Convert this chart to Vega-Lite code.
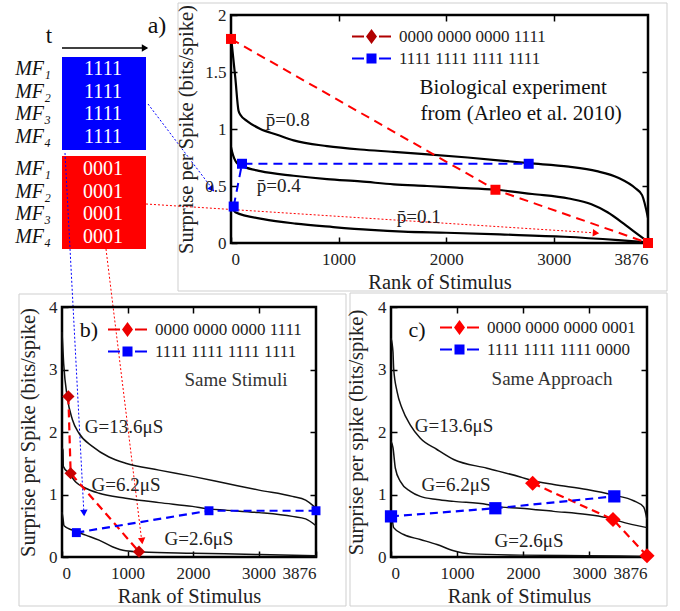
{
  "$schema": "https://vega.github.io/schema/vega-lite/v6.json",
  "padding": {"left": 15, "top": 2, "right": 0, "bottom": 0},
  "bounds": "flush",
  "spacing": 292,
  "resolve": {"scale": {"color": "independent", "shape": "independent"}, "legend": {"color": "independent", "shape": "independent"}},
  "datasets": {
    "curves": [
      {"panel":"a","curve":"p08","rank":0,"value":1.80},{"panel":"a","curve":"p08","rank":10,"value":1.72},{"panel":"a","curve":"p08","rank":40,"value":1.45},{"panel":"a","curve":"p08","rank":70,"value":1.16},{"panel":"a","curve":"p08","rank":90,"value":1.12},{"panel":"a","curve":"p08","rank":150,"value":1.07},{"panel":"a","curve":"p08","rank":273,"value":1.0},{"panel":"a","curve":"p08","rank":428,"value":0.95},{"panel":"a","curve":"p08","rank":582,"value":0.90},{"panel":"a","curve":"p08","rank":892,"value":0.85},{"panel":"a","curve":"p08","rank":1202,"value":0.82},{"panel":"a","curve":"p08","rank":1512,"value":0.80},{"panel":"a","curve":"p08","rank":1800,"value":0.78},{"panel":"a","curve":"p08","rank":2200,"value":0.75},{"panel":"a","curve":"p08","rank":2767,"value":0.70},{"panel":"a","curve":"p08","rank":3139,"value":0.67},{"panel":"a","curve":"p08","rank":3400,"value":0.63},{"panel":"a","curve":"p08","rank":3604,"value":0.57},{"panel":"a","curve":"p08","rank":3759,"value":0.48},{"panel":"a","curve":"p08","rank":3821,"value":0.42},{"panel":"a","curve":"p08","rank":3876,"value":0.22},
      {"panel":"a","curve":"p04","rank":0,"value":0.84},{"panel":"a","curve":"p04","rank":10,"value":0.80},{"panel":"a","curve":"p04","rank":56,"value":0.70},{"panel":"a","curve":"p04","rank":118,"value":0.67},{"panel":"a","curve":"p04","rank":273,"value":0.63},{"panel":"a","curve":"p04","rank":582,"value":0.59},{"panel":"a","curve":"p04","rank":892,"value":0.56},{"panel":"a","curve":"p04","rank":1202,"value":0.54},{"panel":"a","curve":"p04","rank":1512,"value":0.515},{"panel":"a","curve":"p04","rank":1822,"value":0.50},{"panel":"a","curve":"p04","rank":2100,"value":0.485},{"panel":"a","curve":"p04","rank":2458,"value":0.467},{"panel":"a","curve":"p04","rank":2800,"value":0.43},{"panel":"a","curve":"p04","rank":3139,"value":0.39},{"panel":"a","curve":"p04","rank":3350,"value":0.34},{"panel":"a","curve":"p04","rank":3500,"value":0.27},{"panel":"a","curve":"p04","rank":3650,"value":0.17},{"panel":"a","curve":"p04","rank":3760,"value":0.09},{"panel":"a","curve":"p04","rank":3876,"value":0.01},
      {"panel":"a","curve":"p01","rank":0,"value":0.33},{"panel":"a","curve":"p01","rank":40,"value":0.27},{"panel":"a","curve":"p01","rank":300,"value":0.21},{"panel":"a","curve":"p01","rank":600,"value":0.17},{"panel":"a","curve":"p01","rank":950,"value":0.14},{"panel":"a","curve":"p01","rank":1300,"value":0.115},{"panel":"a","curve":"p01","rank":1600,"value":0.10},{"panel":"a","curve":"p01","rank":2000,"value":0.09},{"panel":"a","curve":"p01","rank":2500,"value":0.075},{"panel":"a","curve":"p01","rank":3100,"value":0.055},{"panel":"a","curve":"p01","rank":3600,"value":0.025},{"panel":"a","curve":"p01","rank":3876,"value":0.005},
      {"panel":"b","curve":"g136","rank":0,"value":3.6},{"panel":"b","curve":"g136","rank":25,"value":3.1},{"panel":"b","curve":"g136","rank":81,"value":2.55},{"panel":"b","curve":"g136","rank":158,"value":2.2},{"panel":"b","curve":"g136","rank":259,"value":1.98},{"panel":"b","curve":"g136","rank":463,"value":1.77},{"panel":"b","curve":"g136","rank":717,"value":1.6},{"panel":"b","curve":"g136","rank":971,"value":1.5},{"panel":"b","curve":"g136","rank":1480,"value":1.39},{"panel":"b","curve":"g136","rank":1989,"value":1.29},{"panel":"b","curve":"g136","rank":2498,"value":1.18},{"panel":"b","curve":"g136","rank":3006,"value":1.07},{"panel":"b","curve":"g136","rank":3515,"value":0.97},{"panel":"b","curve":"g136","rank":3718,"value":0.91},{"panel":"b","curve":"g136","rank":3845,"value":0.81},{"panel":"b","curve":"g136","rank":3876,"value":0.78},
      {"panel":"b","curve":"g62","rank":0,"value":1.75},{"panel":"b","curve":"g62","rank":15,"value":1.71},{"panel":"b","curve":"g62","rank":20,"value":1.45},{"panel":"b","curve":"g62","rank":107,"value":1.34},{"panel":"b","curve":"g62","rank":209,"value":1.2},{"panel":"b","curve":"g62","rank":361,"value":1.1},{"panel":"b","curve":"g62","rank":565,"value":1.02},{"panel":"b","curve":"g62","rank":971,"value":0.94},{"panel":"b","curve":"g62","rank":1480,"value":0.87},{"panel":"b","curve":"g62","rank":1989,"value":0.81},{"panel":"b","curve":"g62","rank":2243,"value":0.77},{"panel":"b","curve":"g62","rank":2498,"value":0.75},{"panel":"b","curve":"g62","rank":3006,"value":0.71},{"panel":"b","curve":"g62","rank":3515,"value":0.65},{"panel":"b","curve":"g62","rank":3718,"value":0.61},{"panel":"b","curve":"g62","rank":3876,"value":0.5},
      {"panel":"b","curve":"g26","rank":0,"value":0.72},{"panel":"b","curve":"g26","rank":15,"value":0.62},{"panel":"b","curve":"g26","rank":31,"value":0.50},{"panel":"b","curve":"g26","rank":158,"value":0.43},{"panel":"b","curve":"g26","rank":361,"value":0.35},{"panel":"b","curve":"g26","rank":565,"value":0.27},{"panel":"b","curve":"g26","rank":768,"value":0.165},{"panel":"b","curve":"g26","rank":971,"value":0.10},{"panel":"b","curve":"g26","rank":1226,"value":0.08},{"panel":"b","curve":"g26","rank":1989,"value":0.06},{"panel":"b","curve":"g26","rank":3006,"value":0.04},{"panel":"b","curve":"g26","rank":3876,"value":0.02},
      {"panel":"c","curve":"g136","rank":0,"value":3.5},{"panel":"c","curve":"g136","rank":30,"value":3.28},{"panel":"c","curve":"g136","rank":40,"value":3.02},{"panel":"c","curve":"g136","rank":91,"value":2.65},{"panel":"c","curve":"g136","rank":167,"value":2.38},{"panel":"c","curve":"g136","rank":293,"value":2.11},{"panel":"c","curve":"g136","rank":444,"value":1.9},{"panel":"c","curve":"g136","rank":696,"value":1.72},{"panel":"c","curve":"g136","rank":949,"value":1.56},{"panel":"c","curve":"g136","rank":1453,"value":1.42},{"panel":"c","curve":"g136","rank":1958,"value":1.28},{"panel":"c","curve":"g136","rank":2145,"value":1.22},{"panel":"c","curve":"g136","rank":2463,"value":1.16},{"panel":"c","curve":"g136","rank":2967,"value":1.08},{"panel":"c","curve":"g136","rank":3370,"value":0.99},{"panel":"c","curve":"g136","rank":3674,"value":0.9},{"panel":"c","curve":"g136","rank":3825,"value":0.8},{"panel":"c","curve":"g136","rank":3876,"value":0.6},
      {"panel":"c","curve":"g62","rank":0,"value":1.85},{"panel":"c","curve":"g62","rank":30,"value":1.75},{"panel":"c","curve":"g62","rank":66,"value":1.42},{"panel":"c","curve":"g62","rank":141,"value":1.21},{"panel":"c","curve":"g62","rank":293,"value":1.05},{"panel":"c","curve":"g62","rank":444,"value":0.97},{"panel":"c","curve":"g62","rank":696,"value":0.92},{"panel":"c","curve":"g62","rank":949,"value":0.89},{"panel":"c","curve":"g62","rank":1453,"value":0.84},{"panel":"c","curve":"g62","rank":1580,"value":0.81},{"panel":"c","curve":"g62","rank":1958,"value":0.78},{"panel":"c","curve":"g62","rank":2463,"value":0.73},{"panel":"c","curve":"g62","rank":2967,"value":0.68},{"panel":"c","curve":"g62","rank":3270,"value":0.63},{"panel":"c","curve":"g62","rank":3361,"value":0.61},{"panel":"c","curve":"g62","rank":3472,"value":0.57},{"panel":"c","curve":"g62","rank":3876,"value":0.47},
      {"panel":"c","curve":"g26","rank":0,"value":0.65},{"panel":"c","curve":"g26","rank":15,"value":0.62},{"panel":"c","curve":"g26","rank":40,"value":0.47},{"panel":"c","curve":"g26","rank":192,"value":0.36},{"panel":"c","curve":"g26","rank":444,"value":0.28},{"panel":"c","curve":"g26","rank":696,"value":0.2},{"panel":"c","curve":"g26","rank":949,"value":0.1},{"panel":"c","curve":"g26","rank":1201,"value":0.05},{"panel":"c","curve":"g26","rank":1958,"value":0.03},{"panel":"c","curve":"g26","rank":2967,"value":0.02},{"panel":"c","curve":"g26","rank":3876,"value":0.01}
    ],
    "markers": [
      {"panel":"a","set":"red","series":"0000 0000 0000 1111","rank":0,"value":1.79},
      {"panel":"a","set":"red","series":"0000 0000 0000 1111","rank":2458,"value":0.467},
      {"panel":"a","set":"red","series":"0000 0000 0000 1111","rank":3876,"value":0.0},
      {"panel":"a","set":"blue","series":"1111 1111 1111 1111","rank":25,"value":0.32},
      {"panel":"a","set":"blue","series":"1111 1111 1111 1111","rank":102,"value":0.695},
      {"panel":"a","set":"blue","series":"1111 1111 1111 1111","rank":2767,"value":0.695},
      {"panel":"b","set":"red","series":"0000 0000 0000 1111","rank":97,"value":2.57},
      {"panel":"b","set":"red","series":"0000 0000 0000 1111","rank":132,"value":1.34},
      {"panel":"b","set":"red","series":"0000 0000 0000 1111","rank":1175,"value":0.085},
      {"panel":"b","set":"blue","series":"1111 1111 1111 1111","rank":219,"value":0.39},
      {"panel":"b","set":"blue","series":"1111 1111 1111 1111","rank":2243,"value":0.74},
      {"panel":"b","set":"blue","series":"1111 1111 1111 1111","rank":3876,"value":0.74},
      {"panel":"c","set":"red","series":"0000 0000 0000 0001","rank":2145,"value":1.18},
      {"panel":"c","set":"red","series":"0000 0000 0000 0001","rank":3361,"value":0.60},
      {"panel":"c","set":"red","series":"0000 0000 0000 0001","rank":3876,"value":0.02},
      {"panel":"c","set":"blue","series":"1111 1111 1111 0000","rank":0,"value":0.65},
      {"panel":"c","set":"blue","series":"1111 1111 1111 0000","rank":1580,"value":0.78},
      {"panel":"c","set":"blue","series":"1111 1111 1111 0000","rank":3381,"value":0.97}
    ],
    "labels": [
      {"panel":"a","kind":"curve","text":"p̄=0.8","rank":527,"value":1.08},
      {"panel":"a","kind":"curve","text":"p̄=0.4","rank":443,"value":0.496},
      {"panel":"a","kind":"curve","text":"p̄=0.1","rank":1745,"value":0.225},
      {"panel":"a","kind":"note","text":"Biological  experiment","rank":2623,"value":1.363},
      {"panel":"a","kind":"note","text":"from (Arleo et al. 2010)","rank":2697,"value":1.135},
      {"panel":"b","kind":"tag","text":"b)","rank":412,"value":3.63},
      {"panel":"b","kind":"note","text":"Same Stimuli","rank":2655,"value":2.83},
      {"panel":"b","kind":"curve","text":"G=13.6μS","rank":946,"value":2.08},
      {"panel":"b","kind":"curve","text":"G=6.2μS","rank":977,"value":1.15},
      {"panel":"b","kind":"curve","text":"G=2.6μS","rank":2090,"value":0.29},
      {"panel":"c","kind":"tag","text":"c)","rank":394,"value":3.63},
      {"panel":"c","kind":"note","text":"Same Approach","rank":2438,"value":2.85},
      {"panel":"c","kind":"curve","text":"G=13.6μS","rank":954,"value":2.09},
      {"panel":"c","kind":"curve","text":"G=6.2μS","rank":984,"value":1.15},
      {"panel":"c","kind":"curve","text":"G=2.6μS","rank":2089,"value":0.255}
    ],
    "boxes": [
      {"box":"blue","x":0,"x2":84,"y":42,"y2":135},
      {"box":"red","x":0,"x2":84,"y":141,"y2":234}
    ],
    "diagram_text": [
      {"kind":"bits","text":"1111","x":41,"y":54},{"kind":"bits","text":"1111","x":41,"y":77},{"kind":"bits","text":"1111","x":41,"y":99},{"kind":"bits","text":"1111","x":41,"y":122},
      {"kind":"bits","text":"0001","x":41,"y":154},{"kind":"bits","text":"0001","x":41,"y":177},{"kind":"bits","text":"0001","x":41,"y":199},{"kind":"bits","text":"0001","x":41,"y":222},
      {"kind":"mf","text":"MF₁","x":-11,"y":54},{"kind":"mf","text":"MF₂","x":-11,"y":77},{"kind":"mf","text":"MF₃","x":-11,"y":99},{"kind":"mf","text":"MF₄","x":-11,"y":122},
      {"kind":"mf","text":"MF₁","x":-11,"y":154},{"kind":"mf","text":"MF₂","x":-11,"y":177},{"kind":"mf","text":"MF₃","x":-11,"y":199},{"kind":"mf","text":"MF₄","x":-11,"y":222},
      {"kind":"t","text":"t","x":-13,"y":21},
      {"kind":"tag","text":"a)","x":95,"y":11}
    ],
    "frames": [
      {"x":116,"y":-12,"x2":605,"y2":-12},
      {"x":116,"y":-12,"x2":116,"y2":276},
      {"x":116,"y":276,"x2":605,"y2":276},
      {"x":605,"y":-12,"x2":605,"y2":276},
      {"x":-43,"y":279,"x2":284,"y2":279},
      {"x":-43,"y":279,"x2":-43,"y2":591},
      {"x":-43,"y":591,"x2":284,"y2":591},
      {"x":284,"y":279,"x2":284,"y2":591},
      {"x":288,"y":278,"x2":605,"y2":278},
      {"x":288,"y":278,"x2":288,"y2":591},
      {"x":288,"y":591,"x2":605,"y2":591},
      {"x":605,"y":278,"x2":605,"y2":591}
    ],
    "arrows": [
      {"id":"time","set":"black","x":0,"y":33,"x2":85,"y2":33},
      {"id":"d1","set":"blue","x":86,"y":89,"x2":152,"y2":176},
      {"id":"d2","set":"red","x":84,"y":189,"x2":535,"y2":218},
      {"id":"d3","set":"blue","x":3,"y":138,"x2":22,"y2":500},
      {"id":"d4","set":"red","x":44,"y":234,"x2":80,"y2":528}
    ],
    "heads": [
      {"id":"time","set":"black","x":83,"y":33,"angle":90},
      {"id":"d1","set":"blue","x":150,"y":174,"angle":143},
      {"id":"d2","set":"red","x":534,"y":218,"angle":94},
      {"id":"d3","set":"blue","x":22,"y":498,"angle":177},
      {"id":"d4","set":"red","x":80,"y":526,"angle":173}
    ]
  },
  "vconcat": [
    {
      "hconcat": [
        {
          "width": 94,
          "height": 228,
          "view": {"stroke": null},
          "encoding": {
            "x": {"field": "x", "type": "quantitative", "scale": {"domain": [0, 94], "nice": false, "zero": false}, "axis": null},
            "y": {"field": "y", "type": "quantitative", "scale": {"domain": [0, 228], "nice": false, "zero": false, "reverse": true}, "axis": null}
          },
          "layer": [
            {"data": {"name": "frames"}, "mark": {"type": "rule", "color": "#cfcfcf", "strokeWidth": 1},
             "encoding": {"x2": {"field": "x2"}, "y2": {"field": "y2"}}},
            {"data": {"name": "boxes"}, "mark": {"type": "rect"},
             "encoding": {"x2": {"field": "x2"}, "y2": {"field": "y2"},
               "color": {"field": "box", "type": "nominal", "scale": {"domain": ["blue", "red", "black"], "range": ["#0000ff", "#ff0000", "#000000"]}, "legend": null}}},
            {"data": {"name": "diagram_text"}, "transform": [{"filter": "datum.kind === 'bits'"}],
             "mark": {"type": "text", "color": "white", "fontSize": 20, "align": "center", "baseline": "middle", "font": "Liberation Serif"},
             "encoding": {"text": {"field": "text"}}},
            {"data": {"name": "diagram_text"}, "transform": [{"filter": "datum.kind === 'mf'"}],
             "mark": {"type": "text", "color": "#111", "fontSize": 20, "fontStyle": "italic", "align": "right", "baseline": "middle", "font": "Liberation Serif"},
             "encoding": {"text": {"field": "text"}}},
            {"data": {"name": "diagram_text"}, "transform": [{"filter": "datum.kind === 't'"}],
             "mark": {"type": "text", "color": "#111", "fontSize": 23, "align": "center", "baseline": "middle", "font": "Liberation Serif"},
             "encoding": {"text": {"field": "text"}}},
            {"data": {"name": "diagram_text"}, "transform": [{"filter": "datum.kind === 'tag'"}],
             "mark": {"type": "text", "color": "#111", "fontSize": 24, "align": "center", "baseline": "middle", "font": "Liberation Serif"},
             "encoding": {"text": {"field": "text"}}},
            {"data": {"name": "arrows"}, "transform": [{"filter": "datum.id === 'time'"}],
             "mark": {"type": "rule", "strokeWidth": 1.5},
             "encoding": {"x2": {"field": "x2"}, "y2": {"field": "y2"},
               "color": {"field": "set", "type": "nominal", "scale": {"domain": ["blue", "red", "black"], "range": ["#0000ff", "#ff0000", "#000000"]}, "legend": null}}},
            {"data": {"name": "arrows"}, "transform": [{"filter": "datum.id !== 'time'"}],
             "mark": {"type": "rule", "strokeWidth": 1, "strokeDash": [2, 2]},
             "encoding": {"x2": {"field": "x2"}, "y2": {"field": "y2"},
               "color": {"field": "set", "type": "nominal", "scale": {"domain": ["blue", "red", "black"], "range": ["#0000ff", "#ff0000", "#000000"]}, "legend": null}}},
            {"data": {"name": "heads"},
             "mark": {"type": "point", "shape": "triangle-up", "filled": true, "size": 55, "opacity": 1},
             "encoding": {"angle": {"field": "angle", "type": "quantitative", "scale": null},
               "color": {"field": "set", "type": "nominal", "scale": {"domain": ["blue", "red", "black"], "range": ["#0000ff", "#ff0000", "#000000"]}, "legend": null}}}
          ]
        },
        {
          "width": 417,
          "height": 228,
          "resolve": {"axis": {"x": "independent", "y": "independent"}},
          "encoding": {
            "x": {"field": "rank", "type": "quantitative", "scale": {"domain": [0, 3876], "nice": false, "zero": false}, "axis": null},
            "y": {"field": "value", "type": "quantitative", "scale": {"domain": [0, 2], "nice": false}, "axis": null}
          },
          "layer": [
            {"data": {"name": "curves"}, "transform": [{"filter": "datum.panel === 'a'"}],
             "mark": {"type": "line", "color": "#000", "strokeWidth": 2.2, "interpolate": "monotone"},
             "encoding": {
               "x": {"field": "rank", "type": "quantitative", "scale": {"domain": [0, 3876], "nice": false, "zero": false},
                     "axis": {"values": [0, 1000, 2000, 3000, 3876], "format": "d", "title": "Rank of Stimulus", "titleFont": "Liberation Serif", "labelFont": "Liberation Serif"}},
               "y": {"field": "value", "type": "quantitative", "scale": {"domain": [0, 2], "nice": false},
                     "axis": {"values": [0, 0.5, 1, 1.5, 2], "format": "~g", "title": "Surprise per Spike (bits/spike)", "titlePadding": 8, "titleFont": "Liberation Serif", "labelFont": "Liberation Serif"}},
               "detail": {"field": "curve"}}},
            {"data": {"name": "markers"}, "transform": [{"filter": "datum.panel === 'a' && datum.set === 'red'"}],
             "mark": {"type": "line", "color": "#ff0000", "strokeWidth": 2, "strokeDash": [9, 6]}},
            {"data": {"name": "markers"}, "transform": [{"filter": "datum.panel === 'a' && datum.set === 'blue'"}],
             "mark": {"type": "line", "color": "#0000ff", "strokeWidth": 2, "strokeDash": [9, 6]}},
            {"data": {"name": "markers"}, "transform": [{"filter": "datum.panel === 'a' && datum.set === 'red'"}],
             "mark": {"type": "point", "shape": "square", "filled": true, "size": 100, "color": "#ff0000", "opacity": 1}},
            {"data": {"name": "markers"}, "transform": [{"filter": "datum.panel === 'a' && datum.set === 'blue'"}],
             "mark": {"type": "point", "shape": "square", "filled": true, "size": 100, "color": "#0000ff", "opacity": 1}},
            {"data": {"name": "markers"}, "transform": [{"filter": "datum.panel === 'a'"}],
             "mark": {"type": "point", "filled": true, "size": 100, "opacity": 0},
             "encoding": {
               "color": {"field": "series", "type": "nominal", "scale": {"domain": ["0000 0000 0000 1111", "1111 1111 1111 1111"], "range": ["#b00000", "#0000ff"]},
                 "legend": {"title": null, "orient": "none", "legendX": 112, "legendY": 13, "symbolOpacity": 1}},
               "shape": {"field": "series", "type": "nominal", "scale": {"domain": ["0000 0000 0000 1111", "1111 1111 1111 1111"], "range": ["M-3.9,-0.22L-1.5,-0.22L-1.5,0.22L-3.9,0.22Z M-1.1,0L0,-1.5L1.1,0L0,1.5Z M1.5,-0.22L3.9,-0.22L3.9,0.22L1.5,0.22Z", "M-3.9,-0.22L-1.5,-0.22L-1.5,0.22L-3.9,0.22Z M-1,-1L1,-1L1,1L-1,1Z M1.5,-0.22L3.9,-0.22L3.9,0.22L1.5,0.22Z"]},
                 "legend": {"title": null, "orient": "none", "legendX": 112, "legendY": 13, "symbolOpacity": 1}}
             }},
            {"data": {"name": "labels"}, "transform": [{"filter": "datum.panel === 'a' && datum.kind === 'curve'"}],
             "mark": {"type": "text", "fontSize": 19, "align": "center", "baseline": "middle", "color": "#222", "font": "Liberation Serif"},
             "encoding": {"text": {"field": "text"}}},
            {"data": {"name": "labels"}, "transform": [{"filter": "datum.panel === 'a' && datum.kind === 'note'"}],
             "mark": {"type": "text", "fontSize": 21, "align": "center", "baseline": "middle", "color": "#111", "font": "Liberation Serif"},
             "encoding": {
               "x": {"field": "rank", "type": "quantitative", "scale": {"domain": [0, 3876], "nice": false, "zero": false},
                     "axis": {"orient": "top", "values": [1000, 2000, 3000], "labels": false, "title": null}},
               "y": {"field": "value", "type": "quantitative", "scale": {"domain": [0, 2], "nice": false},
                     "axis": {"orient": "right", "values": [0.5, 1, 1.5], "labels": false, "title": null}},
               "text": {"field": "text"}}}
          ]
        }
      ],
      "spacing": 75,
      "bounds": "flush",
      "resolve": {"scale": {"color": "independent", "shape": "independent"}, "legend": {"color": "independent", "shape": "independent"}}
    },
    {
      "hconcat": [
        {
          "width": 254,
          "height": 250,
          "resolve": {"axis": {"x": "independent", "y": "independent"}},
          "encoding": {
            "x": {"field": "rank", "type": "quantitative", "scale": {"domain": [0, 3876], "nice": false, "zero": false}, "axis": null},
            "y": {"field": "value", "type": "quantitative", "scale": {"domain": [0, 4], "nice": false}, "axis": null}
          },
          "layer": [
            {"data": {"name": "curves"}, "transform": [{"filter": "datum.panel === 'b'"}],
             "mark": {"type": "line", "color": "#111", "strokeWidth": 1.5, "interpolate": "monotone"},
             "encoding": {
               "x": {"field": "rank", "type": "quantitative", "scale": {"domain": [0, 3876], "nice": false, "zero": false},
                     "axis": {"values": [0, 1000, 2000, 3000, 3876], "format": "d", "title": "Rank of Stimulus", "titleFont": "Liberation Serif", "labelFont": "Liberation Serif"}},
               "y": {"field": "value", "type": "quantitative", "scale": {"domain": [0, 4], "nice": false},
                     "axis": {"values": [0, 1, 2, 3, 4], "format": "~g", "title": "Surprise per Spike (bits/spike)", "titleFont": "Liberation Serif", "labelFont": "Liberation Serif"}},
               "detail": {"field": "curve"}}},
            {"data": {"name": "markers"}, "transform": [{"filter": "datum.panel === 'b' && datum.set === 'red'"}],
             "mark": {"type": "line", "color": "#ff0000", "strokeWidth": 2.2, "strokeDash": [8, 5]}},
            {"data": {"name": "markers"}, "transform": [{"filter": "datum.panel === 'b' && datum.set === 'blue'"}],
             "mark": {"type": "line", "color": "#0000ff", "strokeWidth": 2.2, "strokeDash": [8, 5]}},
            {"data": {"name": "markers"}, "transform": [{"filter": "datum.panel === 'b' && datum.set === 'red'"}],
             "mark": {"type": "point", "shape": "diamond", "filled": true, "size": 150, "color": "#c80000", "opacity": 1}},
            {"data": {"name": "markers"}, "transform": [{"filter": "datum.panel === 'b' && datum.set === 'blue'"}],
             "mark": {"type": "point", "shape": "square", "filled": true, "size": 80, "color": "#0000ff", "opacity": 1}},
            {"data": {"name": "markers"}, "transform": [{"filter": "datum.panel === 'b'"}],
             "mark": {"type": "point", "filled": true, "size": 100, "opacity": 0},
             "encoding": {
               "color": {"field": "series", "type": "nominal", "scale": {"domain": ["0000 0000 0000 1111", "1111 1111 1111 1111"], "range": ["#ee0000", "#0000ff"]},
                 "legend": {"title": null, "orient": "none", "legendX": 37, "legendY": 14, "symbolOpacity": 1}},
               "shape": {"field": "series", "type": "nominal", "scale": {"domain": ["0000 0000 0000 1111", "1111 1111 1111 1111"], "range": ["M-3.9,-0.22L-1.5,-0.22L-1.5,0.22L-3.9,0.22Z M-1.1,0L0,-1.5L1.1,0L0,1.5Z M1.5,-0.22L3.9,-0.22L3.9,0.22L1.5,0.22Z", "M-3.9,-0.22L-1.5,-0.22L-1.5,0.22L-3.9,0.22Z M-1,-1L1,-1L1,1L-1,1Z M1.5,-0.22L3.9,-0.22L3.9,0.22L1.5,0.22Z"]},
                 "legend": {"title": null, "orient": "none", "legendX": 37, "legendY": 14, "symbolOpacity": 1}}
             }},
            {"data": {"name": "labels"}, "transform": [{"filter": "datum.panel === 'b' && datum.kind === 'curve'"}],
             "mark": {"type": "text", "fontSize": 19, "align": "center", "baseline": "middle", "color": "#222", "font": "Liberation Serif"},
             "encoding": {"text": {"field": "text"}}},
            {"data": {"name": "labels"}, "transform": [{"filter": "datum.panel === 'b' && datum.kind === 'note'"}],
             "mark": {"type": "text", "fontSize": 19, "align": "center", "baseline": "middle", "color": "#333", "font": "Liberation Serif"},
             "encoding": {
               "x": {"field": "rank", "type": "quantitative", "scale": {"domain": [0, 3876], "nice": false, "zero": false},
                     "axis": {"orient": "top", "values": [1000, 2000, 3000], "labels": false, "title": null}},
               "y": {"field": "value", "type": "quantitative", "scale": {"domain": [0, 4], "nice": false},
                     "axis": {"orient": "right", "values": [1, 2, 3], "labels": false, "title": null}},
               "text": {"field": "text"}}},
            {"data": {"name": "labels"}, "transform": [{"filter": "datum.panel === 'b' && datum.kind === 'tag'"}],
             "mark": {"type": "text", "fontSize": 22, "align": "center", "baseline": "middle", "color": "#111", "font": "Liberation Serif"},
             "encoding": {"text": {"field": "text"}}}
          ]
        },
        {
          "width": 256,
          "height": 250,
          "resolve": {"axis": {"x": "independent", "y": "independent"}},
          "encoding": {
            "x": {"field": "rank", "type": "quantitative", "scale": {"domain": [0, 3876], "nice": false, "zero": false}, "axis": null},
            "y": {"field": "value", "type": "quantitative", "scale": {"domain": [0, 4], "nice": false}, "axis": null}
          },
          "layer": [
            {"data": {"name": "curves"}, "transform": [{"filter": "datum.panel === 'c'"}],
             "mark": {"type": "line", "color": "#111", "strokeWidth": 1.5, "interpolate": "monotone"},
             "encoding": {
               "x": {"field": "rank", "type": "quantitative", "scale": {"domain": [0, 3876], "nice": false, "zero": false},
                     "axis": {"values": [0, 1000, 2000, 3000, 3876], "format": "d", "title": "Rank of Stimulus", "titleFont": "Liberation Serif", "labelFont": "Liberation Serif"}},
               "y": {"field": "value", "type": "quantitative", "scale": {"domain": [0, 4], "nice": false},
                     "axis": {"values": [0, 1, 2, 3, 4], "format": "~g", "title": "Surprise per spike (bits/spike)", "titlePadding": 11, "titleFont": "Liberation Serif", "labelFont": "Liberation Serif"}},
               "detail": {"field": "curve"}}},
            {"data": {"name": "markers"}, "transform": [{"filter": "datum.panel === 'c' && datum.set === 'red'"}],
             "mark": {"type": "line", "color": "#ff0000", "strokeWidth": 2.2, "strokeDash": [8, 5]}},
            {"data": {"name": "markers"}, "transform": [{"filter": "datum.panel === 'c' && datum.set === 'blue'"}],
             "mark": {"type": "line", "color": "#0000ff", "strokeWidth": 2.2, "strokeDash": [8, 5]}},
            {"data": {"name": "markers"}, "transform": [{"filter": "datum.panel === 'c' && datum.set === 'red'"}],
             "mark": {"type": "point", "shape": "diamond", "filled": true, "size": 230, "color": "#ff0000", "opacity": 1}},
            {"data": {"name": "markers"}, "transform": [{"filter": "datum.panel === 'c' && datum.set === 'blue'"}],
             "mark": {"type": "point", "shape": "square", "filled": true, "size": 150, "color": "#0000ff", "opacity": 1}},
            {"data": {"name": "markers"}, "transform": [{"filter": "datum.panel === 'c'"}],
             "mark": {"type": "point", "filled": true, "size": 100, "opacity": 0},
             "encoding": {
               "color": {"field": "series", "type": "nominal", "scale": {"domain": ["0000 0000 0000 0001", "1111 1111 1111 0000"], "range": ["#ff0000", "#0000ff"]},
                 "legend": {"title": null, "orient": "none", "legendX": 40, "legendY": 12, "symbolOpacity": 1}},
               "shape": {"field": "series", "type": "nominal", "scale": {"domain": ["0000 0000 0000 0001", "1111 1111 1111 0000"], "range": ["M-3.9,-0.22L-1.5,-0.22L-1.5,0.22L-3.9,0.22Z M-1.1,0L0,-1.5L1.1,0L0,1.5Z M1.5,-0.22L3.9,-0.22L3.9,0.22L1.5,0.22Z", "M-3.9,-0.22L-1.5,-0.22L-1.5,0.22L-3.9,0.22Z M-1,-1L1,-1L1,1L-1,1Z M1.5,-0.22L3.9,-0.22L3.9,0.22L1.5,0.22Z"]},
                 "legend": {"title": null, "orient": "none", "legendX": 40, "legendY": 12, "symbolOpacity": 1}}
             }},
            {"data": {"name": "labels"}, "transform": [{"filter": "datum.panel === 'c' && datum.kind === 'curve'"}],
             "mark": {"type": "text", "fontSize": 19, "align": "center", "baseline": "middle", "color": "#222", "font": "Liberation Serif"},
             "encoding": {"text": {"field": "text"}}},
            {"data": {"name": "labels"}, "transform": [{"filter": "datum.panel === 'c' && datum.kind === 'note'"}],
             "mark": {"type": "text", "fontSize": 19, "align": "center", "baseline": "middle", "color": "#333", "font": "Liberation Serif"},
             "encoding": {
               "x": {"field": "rank", "type": "quantitative", "scale": {"domain": [0, 3876], "nice": false, "zero": false},
                     "axis": {"orient": "top", "values": [1000, 2000, 3000], "labels": false, "title": null}},
               "y": {"field": "value", "type": "quantitative", "scale": {"domain": [0, 4], "nice": false},
                     "axis": {"orient": "right", "values": [1, 2, 3], "labels": false, "title": null}},
               "text": {"field": "text"}}},
            {"data": {"name": "labels"}, "transform": [{"filter": "datum.panel === 'c' && datum.kind === 'tag'"}],
             "mark": {"type": "text", "fontSize": 22, "align": "center", "baseline": "middle", "color": "#111", "font": "Liberation Serif"},
             "encoding": {"text": {"field": "text"}}}
          ]
        }
      ],
      "spacing": 75,
      "bounds": "flush",
      "resolve": {"scale": {"color": "independent", "shape": "independent"}, "legend": {"color": "independent", "shape": "independent"}}
    }
  ],
  "config": {
    "font": "Liberation Serif",
    "view": {"stroke": "#000000", "strokeWidth": 2.5},
    "axis": {"grid": false, "domain": false, "ticks": true, "tickSize": -6, "tickWidth": 1.5, "tickColor": "#000",
             "labelFont": "Liberation Serif", "labelFontSize": 17, "labelColor": "#222", "labelPadding": 11,
             "titleFont": "Liberation Serif", "titleFontSize": 20.5, "titleFontWeight": "normal", "titleColor": "#222"},
    "axisX": {"labelPadding": 14, "titlePadding": 5},
    "axisY": {"labelPadding": 11, "titlePadding": 10},
    "legend": {"labelFont": "Liberation Serif", "labelFontSize": 17, "labelColor": "#222", "symbolSize": 100, "symbolStrokeWidth": 0,
               "rowPadding": 4, "padding": 0, "symbolOffset": 20, "labelOffset": 19, "symbolOpacity": 1},
    "text": {"font": "Liberation Serif"}
  }
}
